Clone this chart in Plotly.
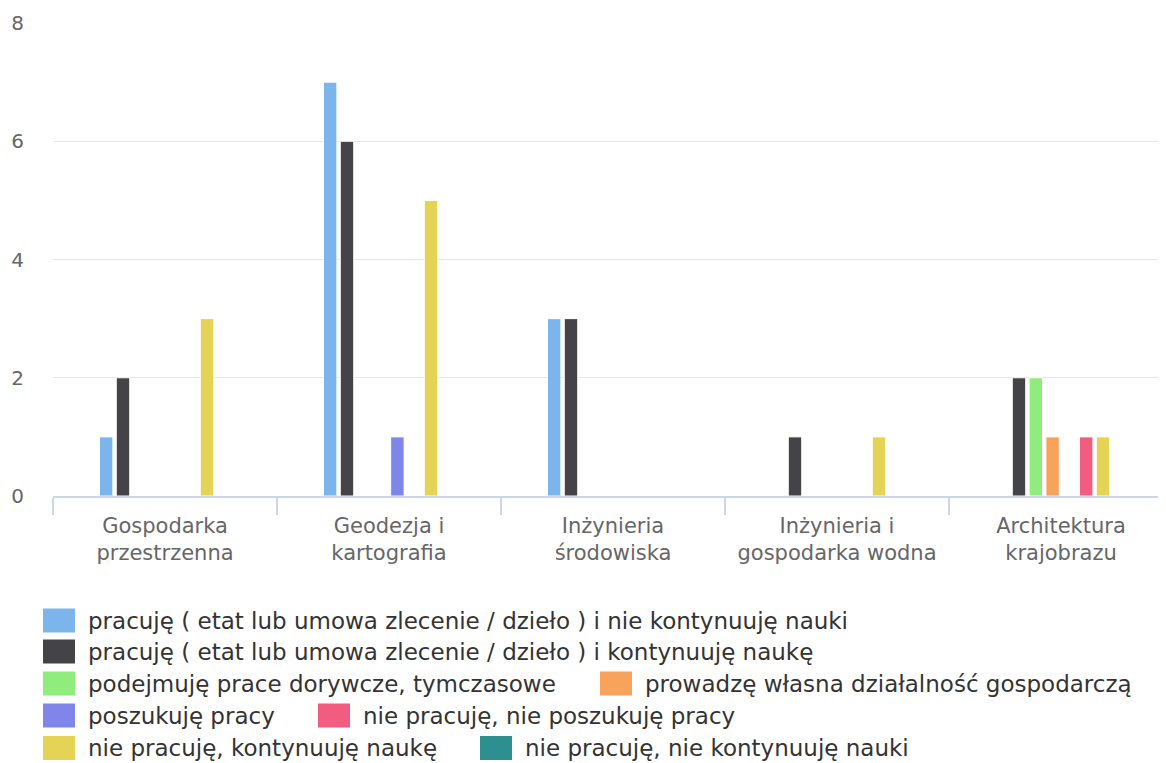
import plotly.graph_objects as go

categories = [
    "Gospodarka<br>przestrzenna",
    "Geodezja i<br>kartografia",
    "Inżynieria<br>środowiska",
    "Inżynieria i<br>gospodarka wodna",
    "Architektura<br>krajobrazu",
]

series_names = [
    "pracuję ( etat lub umowa zlecenie / dzieło ) i nie kontynuuję nauki",
    "pracuję ( etat lub umowa zlecenie / dzieło ) i kontynuuję naukę",
    "podejmuję prace dorywcze, tymczasowe",
    "prowadzę własna działalność gospodarczą",
    "poszukuję pracy",
    "nie pracuję, nie poszukuję pracy",
    "nie pracuję, kontynuuję naukę",
    "nie pracuję, nie kontynuuję nauki",
]

pracuje_nie_kontynuuje = [1, 7, 3, 0, 0]
pracuje_kontynuuje = [2, 6, 3, 1, 2]
prace_dorywcze = [0, 0, 0, 0, 2]
wlasna_dzialalnosc = [0, 0, 0, 0, 1]
poszukuje_pracy = [0, 1, 0, 0, 0]
nie_pracuje_nie_poszukuje = [0, 0, 0, 0, 1]
nie_pracuje_kontynuuje = [3, 5, 0, 1, 1]
nie_pracuje_nie_kontynuuje = [0, 0, 0, 0, 0]

series_values = [
    pracuje_nie_kontynuuje,
    pracuje_kontynuuje,
    prace_dorywcze,
    wlasna_dzialalnosc,
    poszukuje_pracy,
    nie_pracuje_nie_poszukuje,
    nie_pracuje_kontynuuje,
    nie_pracuje_nie_kontynuuje,
]

colors = ["#7cb5ec", "#434348", "#90ed7d", "#f7a35c",
          "#8085e9", "#f15c80", "#e4d354", "#2b908f"]

# the page puts the plot 8px in from the top-left corner (body margin),
# so the figure is made that much smaller and everything is laid out in page px
PAGE = 8
W, H = 1166 - PAGE, 763 - PAGE
PLOT_L, PLOT_R, PLOT_T, PLOT_B = 53 - PAGE, 1166 - PAGE, 23 - PAGE, 496 - PAGE
FONT = "DejaVu Sans"

fig = go.Figure()
for name, vals, col in zip(series_names, series_values, colors):
    fig.add_trace(go.Bar(
        x=categories, y=vals, name=name,
        marker=dict(color=col, line=dict(color="white", width=1)),
        showlegend=False,
    ))


def px_x(x):
    return (x - PAGE - PLOT_L) / (PLOT_R - PLOT_L)


def px_y(y):
    return (PLOT_B - (y - PAGE)) / (PLOT_B - PLOT_T)


# legend rows as in the original (left x of symbol, row centre y), page px
legend_pos = [(43, 620.5), (43, 651.5), (43, 683.5), (600, 683.5),
              (43, 715.5), (318, 715.5), (43, 748), (480, 748)]
for (lx, ly), name, col in zip(legend_pos, series_names, colors):
    fig.add_shape(type="rect", xref="paper", yref="paper",
                  x0=px_x(lx), x1=px_x(lx + 32),
                  y0=px_y(ly + 12), y1=px_y(ly - 12),
                  fillcolor=col, line=dict(width=0))
    fig.add_annotation(x=px_x(lx + 43), y=px_y(ly), xref="paper", yref="paper",
                       text=name, showarrow=False, xanchor="left", yanchor="middle",
                       font=dict(family=FONT, size=23, color="#333333"))

cat_w = (PLOT_R - PLOT_L) / 224.0

fig.update_layout(
    width=W, height=H,
    margin=dict(l=PLOT_L, r=W - PLOT_R, t=PLOT_T, b=H - PLOT_B),
    plot_bgcolor="white", paper_bgcolor="white",
    barmode="group", bargap=0.4, bargroupgap=0.2,
    font=dict(family=FONT, color="#666666"),
    xaxis=dict(
        range=[-0.5, -0.5 + cat_w],
        tickson="boundaries", ticks="outside", ticklen=17, tickwidth=1.5,
        tickcolor="#ccd6eb", showline=True, linecolor="#ccd6eb", linewidth=1.5,
        showgrid=False, ticklabelstandoff=10,
        tickfont=dict(size=21, color="#666666"),
    ),
    yaxis=dict(
        range=[0, 8], dtick=2, showgrid=True, gridcolor="#e6e6e6", gridwidth=1,
        zeroline=False, showline=False, ticks="", ticklabelstandoff=28,
        tickfont=dict(size=20, color="#666666"),
    ),
)

fig.write_html("out.html")
